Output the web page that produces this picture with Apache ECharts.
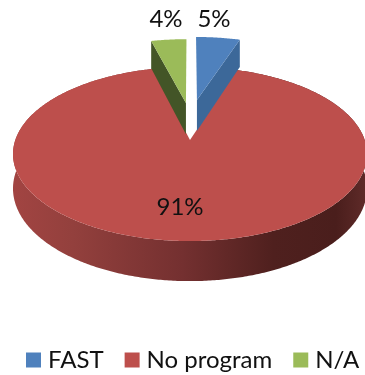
<!DOCTYPE html>
<html>
<head>
<meta charset="utf-8">
<style>html,body{margin:0;padding:0;background:#fff}#chart{width:365px;height:375px}</style>
<script src="https://cdn.jsdelivr.net/npm/echarts@6/dist/echarts.min.js"></script>
</head>
<body>
<div id="chart"></div>
<script>
// Share of respondents per program
const categories = ['FAST', 'No program', 'N/A'];
const shares = [5, 91, 4];

// Slice colours: top face, and shaded cut face
const topColors = ['#4f81bd', '#bd4f4c', '#9bbb59'];
const faceColors = ['#3c6899', '#7a2f2d', '#435527'];

// Tilted-disc projection
const disc = { cx: 190, cy: 140, rx: 174.7, ry: 84.8, persp: 0.161, depth: 33.6 };
// Explosion of each slice in disc units, and which cut face shows
const explode = [[0.043, 0.51], [0, 0], [-0.025, 0.47]];
const shownFace = ['end', null, 'start'];
const labelAt = [[214, 19], [180, 207], [166, 19]];

const total = shares.reduce((a, b) => a + b, 0);

function project(u, v, z) {
  const k = 1 / (1 + disc.persp * v);
  return [disc.cx + disc.rx * u * k, disc.cy - disc.ry * v * k + disc.depth * z * k];
}

function sliceAngles(i) {
  const before = shares.slice(0, i).reduce((a, b) => a + b, 0);
  return [before / total * 2 * Math.PI, (before + shares[i]) / total * 2 * Math.PI];
}

function rimPoint(i, a, z) {
  return project(explode[i][0] + Math.sin(a), explode[i][1] + Math.cos(a), z);
}

function arc(i, z) {
  const [a0, a1] = sliceAngles(i);
  const n = Math.max(4, Math.ceil((a1 - a0) / 0.01));
  const pts = [];
  for (let s = 0; s <= n; s++) pts.push(rimPoint(i, a0 + (a1 - a0) * s / n, z));
  return pts;
}

function renderSlice(i) {
  const apex = z => project(explode[i][0], explode[i][1], z);
  const children = [];
  const poly = (points, fill) => children.push({
    type: 'polygon', shape: { points }, style: { fill }
  });

  if (i === 1) {
    // Outer wall of the large slice, shaded across its width
    poly(arc(i, 0).concat(arc(i, 1).reverse()), new echarts.graphic.LinearGradient(0, 0, 365, 0, [
      { offset: 0, color: '#a54543' },
      { offset: 0.2, color: '#93403d' },
      { offset: 0.5, color: '#743030' },
      { offset: 0.75, color: '#4f201e' },
      { offset: 0.92, color: '#4a1e1c' },
      { offset: 1, color: '#5e2a28' }
    ], true));
  }
  if (shownFace[i]) {
    const [a0, a1] = sliceAngles(i);
    const a = shownFace[i] === 'end' ? a1 : a0;
    poly([apex(0), rimPoint(i, a, 0), rimPoint(i, a, 1), apex(1)], faceColors[i]);
  }
  poly([apex(0)].concat(arc(i, 0)), topColors[i]);
  children.push({
    type: 'text',
    style: {
      x: labelAt[i][0], y: labelAt[i][1], text: shares[i] + '%',
      fill: '#111', font: '24px Lato', align: 'center', verticalAlign: 'middle'
    }
  });
  return { type: 'group', children };
}

const chart = echarts.init(document.getElementById('chart'));
chart.setOption({
  animation: false,
  backgroundColor: '#fff',
  legend: {
    data: categories,
    left: 26,
    top: 348,
    width: 600,
    padding: 0,
    itemWidth: 15,
    itemHeight: 15,
    itemGap: 21,
    icon: 'rect',
    textStyle: { fontFamily: 'Lato', fontSize: 24, color: '#111', padding: [0, 0, 0, 2] }
  },
  series: categories.map((name, i) => ({
    type: 'custom',
    name,
    coordinateSystem: 'none',
    z: i === 1 ? 1 : 2,
    silent: true,
    itemStyle: { color: topColors[i] },
    data: [shares[i]],
    renderItem: () => renderSlice(i)
  }))
});
</script>
</body>
</html>
